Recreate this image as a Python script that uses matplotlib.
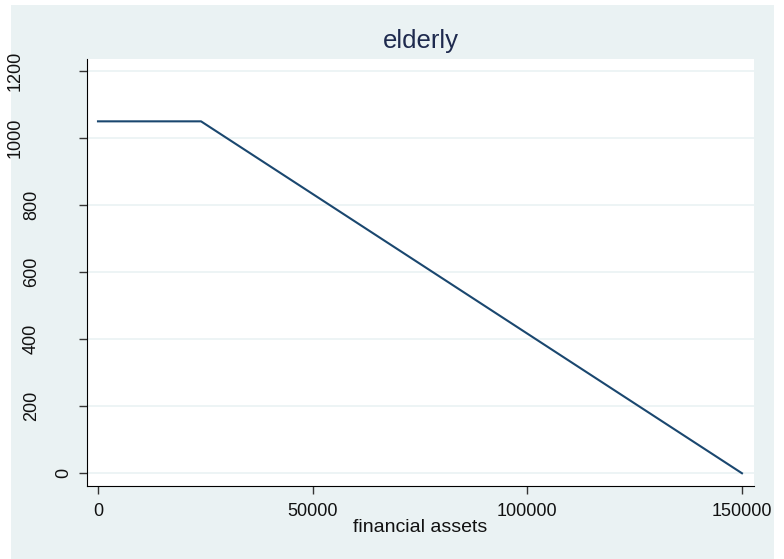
import matplotlib.pyplot as plt
from matplotlib.patches import Rectangle
from matplotlib.transforms import offset_copy

plt.rcParams["font.family"] = ["Liberation Sans", "DejaVu Sans"]

# kinked line: flat benefit then linear phase-out
assets = [0, 24000, 150000]
benefit = [1050, 1050, 0]

x_ticks = [0, 50000, 100000, 150000]
y_ticks = [0, 200, 400, 600, 800, 1000, 1200]

BG = "#eaf2f3"
LINE = "#1a476f"
TITLE = "#1e2a4e"


def main():
    W, H = 784, 559
    fig = plt.figure(figsize=(W / 100, H / 100), dpi=100)
    fig.patch.set_facecolor("white")
    fig.patches.append(Rectangle((11 / W, 0), (774 - 11) / W, 1 - 5 / H,
                                 transform=fig.transFigure, facecolor=BG,
                                 edgecolor="none", zorder=-10))

    left, right, top, bottom = 87, 754, 59, 486
    ax = fig.add_axes([left / W, 1 - bottom / H, (right - left) / W, (bottom - top) / H])
    ax.set_facecolor("white")

    ax.plot(assets, benefit, color=LINE, linewidth=1.5, solid_joinstyle="round")

    ax.set_xlim(-2560, 152800)
    ax.set_ylim(-38, 1236)
    ax.set_xticks(x_ticks)
    ax.set_yticks(y_ticks)
    ax.set_xticklabels([str(v) for v in x_ticks], fontsize=13, color="#111111")
    ax.set_yticklabels([])
    ax.yaxis.grid(True, color=BG, linewidth=1.2)
    ax.set_axisbelow(True)

    # Stata-style rotated labels: shifted left by their unrotated length
    for v in y_ticks:
        n = len(str(v))
        tr = offset_copy(ax.get_yaxis_transform(), fig=fig, x=-7.5 - 16 * n, y=0, units="dots")
        ax.text(0, v, str(v), transform=tr, rotation=90, ha="center", va="center",
                fontsize=13, color="#111111")

    for side in ["top", "right"]:
        ax.spines[side].set_visible(False)
    ax.spines["left"].set_color("black")
    ax.spines["bottom"].set_color("black")
    ax.tick_params(axis="both", length=5.5, width=1, color="#333333")
    ax.tick_params(axis="x", pad=7)

    ax.set_xlabel("financial assets", fontsize=14, labelpad=-1, color="#111111")
    ax.set_title("elderly", fontsize=18.5, pad=8, color=TITLE)

    fig.savefig("out.png", dpi=100, facecolor=fig.get_facecolor())
    plt.close(fig)


if __name__ == "__main__":
    main()
